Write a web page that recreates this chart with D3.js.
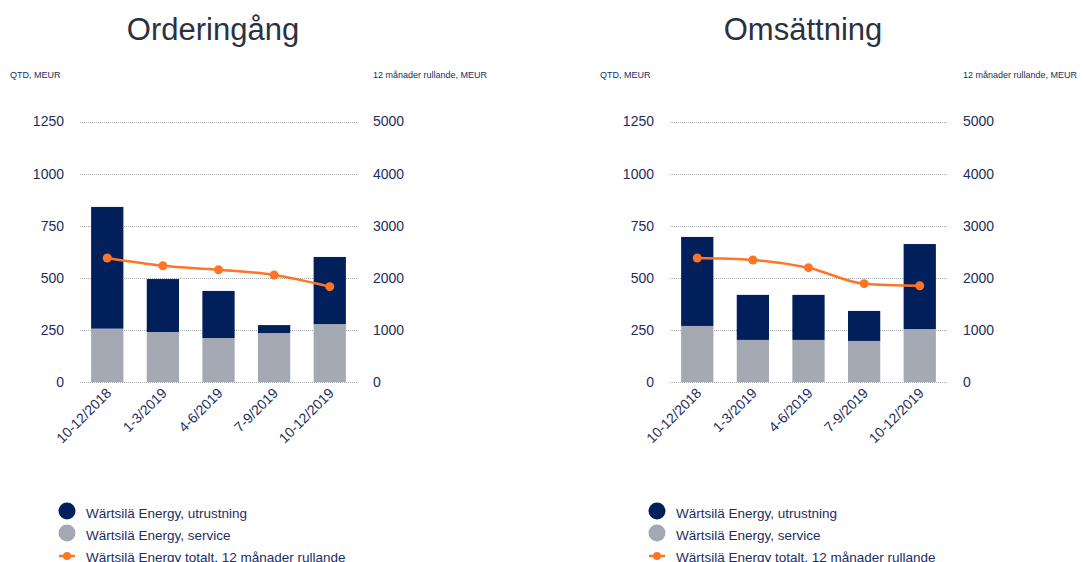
<!DOCTYPE html>
<html>
<head>
<meta charset="utf-8">
<script src="https://cdn.jsdelivr.net/npm/d3@7"></script>
<style>
  body { margin: 0; background: #fff; }
  svg { font-family: "Liberation Sans", Arial, sans-serif; }
</style>
</head>
<body>
<svg id="chart" width="1084" height="562"></svg>
<script>
// periods on the x axis
var periods = ["10-12/2018", "1-3/2019", "4-6/2019", "7-9/2019", "10-12/2019"];
var leftTicks = [0, 250, 500, 750, 1000, 1250];
var rightTicks = [0, 1000, 2000, 3000, 4000, 5000];

// Orderingång
var orderService = [256, 240, 211, 235, 278];
var orderEquipment = [584, 254, 226, 38, 322];
var orderRolling = [2380, 2232, 2155, 2054, 1830];

// Omsättning
var salesService = [269, 202, 202, 197, 254];
var salesEquipment = [427, 216, 216, 144, 408];
var salesRolling = [2380, 2342, 2194, 1887, 1848];

var legendNames = ["Wärtsilä Energy, utrustning", "Wärtsilä Energy, service", "Wärtsilä Energy totalt, 12 månader rullande"];

var navy = "#011f5b", grey = "#a4a8b2", orange = "#ff7425", textCol = "#1c2d5e";

var svg = d3.select("#chart");

drawPanel(0, "Orderingång", orderService, orderEquipment, orderRolling);
drawPanel(590, "Omsättning", salesService, salesEquipment, salesRolling);

function drawPanel(ox, title, service, equipment, rolling)
{
    var g = svg.append("g").attr("transform", "translate(" + ox + ",0)");

    var x = d3.scaleBand().domain(periods).range([80, 357]).paddingInner(0.42).paddingOuter(0.2);
    var y = d3.scaleLinear().domain([0, 1250]).range([382, 121.5]);
    var y2 = d3.scaleLinear().domain([0, 5000]).range([382, 121.5]);

    g.append("text")
     .attr("x", 213)
     .attr("y", 40)
     .attr("text-anchor", "middle")
     .attr("font-size", "31px")
     .attr("fill", "#2a3142")
     .text(title);

    g.append("text").attr("x", 10).attr("y", 78).attr("font-size", "9px").attr("fill", textCol).text("QTD, MEUR");
    g.append("text").attr("x", 373).attr("y", 78).attr("font-size", "9px").attr("fill", textCol).text("12 månader rullande, MEUR");

    // gridlines
    g.selectAll(".grid")
     .data(leftTicks)
     .enter().append("line")
     .attr("x1", 80).attr("x2", 357)
     .attr("y1", function(d) { return Math.round(y(d)) + 0.5; })
     .attr("y2", function(d) { return Math.round(y(d)) + 0.5; })
     .attr("stroke", "#a9abb3")
     .attr("stroke-width", 1)
     .attr("stroke-dasharray", "1,1");

    // left axis
    var la = g.append("g")
              .attr("transform", "translate(64,0)")
              .call(d3.axisLeft(y).tickValues(leftTicks).tickFormat(d3.format("d")).tickSize(0).tickPadding(0));
    la.select(".domain").remove();
    la.selectAll("text").attr("font-size", "14px").attr("fill", textCol).attr("font-family", "Liberation Sans, Arial, sans-serif");

    // right axis
    var ra = g.append("g")
              .attr("transform", "translate(373,0)")
              .call(d3.axisRight(y2).tickValues(rightTicks).tickFormat(d3.format("d")).tickSize(0).tickPadding(0));
    ra.select(".domain").remove();
    ra.selectAll("text").attr("font-size", "14px").attr("fill", textCol).attr("font-family", "Liberation Sans, Arial, sans-serif");

    // bars
    g.selectAll(".svc")
     .data(service)
     .enter().append("rect")
     .attr("x", function(d, i) { return x(periods[i]); })
     .attr("width", x.bandwidth())
     .attr("y", function(d) { return y(d); })
     .attr("height", function(d) { return y(0) - y(d); })
     .attr("fill", grey);

    g.selectAll(".eq")
     .data(equipment)
     .enter().append("rect")
     .attr("x", function(d, i) { return x(periods[i]); })
     .attr("width", x.bandwidth())
     .attr("y", function(d, i) { return y(d + service[i]); })
     .attr("height", function(d) { return y(0) - y(d); })
     .attr("fill", navy);

    // rolling line
    var line = d3.line()
                 .x(function(d, i) { return x(periods[i]) + x.bandwidth() / 2; })
                 .y(function(d) { return y2(d); })
                 .curve(d3.curveMonotoneX);
    g.append("path")
     .datum(rolling)
     .attr("d", line)
     .attr("fill", "none")
     .attr("stroke", orange)
     .attr("stroke-width", 2.5);
    g.selectAll(".dot")
     .data(rolling)
     .enter().append("circle")
     .attr("cx", function(d, i) { return x(periods[i]) + x.bandwidth() / 2; })
     .attr("cy", function(d) { return y2(d); })
     .attr("r", 4.5)
     .attr("fill", orange);

    // x labels
    g.selectAll(".xl")
     .data(periods)
     .enter().append("text")
     .attr("transform", function(d) {
         return "translate(" + (x(d) + x.bandwidth() / 2 + 5) + ",394) rotate(-45)";
     })
     .attr("text-anchor", "end")
     .attr("font-size", "14px")
     .attr("fill", textCol)
     .text(function(d) { return d; });

    // legend
    var lg = g.append("g").attr("transform", "translate(67,0)");
    lg.append("circle").attr("cx", 0).attr("cy", 511).attr("r", 8.5).attr("fill", navy);
    lg.append("circle").attr("cx", 0).attr("cy", 533).attr("r", 8.5).attr("fill", grey);
    lg.append("line").attr("x1", -8).attr("x2", 8).attr("y1", 556).attr("y2", 556).attr("stroke", orange).attr("stroke-width", 2.5);
    lg.append("circle").attr("cx", 0).attr("cy", 556).attr("r", 4).attr("fill", orange);
    lg.selectAll(".lt")
      .data(legendNames)
      .enter().append("text")
      .attr("x", 19)
      .attr("y", function(d, i) { return 518 + i * 22; })
      .attr("font-size", "13.5px")
      .attr("fill", textCol)
      .text(function(d) { return d; });
}
</script>
</body>
</html>
